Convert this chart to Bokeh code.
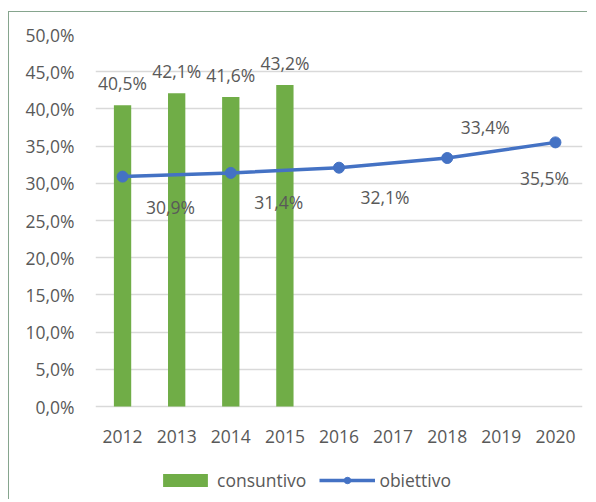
from bokeh.plotting import figure
from bokeh.models import (ColumnDataSource, FactorRange, Range1d, Legend, LegendItem,
                          FixedTicker, CustomJSTickFormatter, Spacer)
from bokeh.layouts import column, row
from bokeh.core.properties import value
from bokeh.embed import file_html
from bokeh.resources import INLINE

years = ["2012", "2013", "2014", "2015", "2016", "2017", "2018", "2019", "2020"]
bar_years = ["2012", "2013", "2014", "2015"]
consuntivo = [40.5, 42.1, 41.6, 43.2]
obj_years = ["2012", "2014", "2016", "2018", "2020"]
obiettivo = [30.9, 31.4, 32.1, 33.4, 35.5]
y_ticks = [0, 5, 10, 15, 20, 25, 30, 35, 40, 45, 50]

FONT = "Open Sans"
TXT = "#595959"
GREEN = "#70AD47"
BLUE = "#4472C4"
FS = "17.5px"

def fmt(v):
    return ("%.1f" % v).replace(".", ",") + "%"

# frame extends below 0 to leave room for the year labels and the legend
p = figure(width=579, height=488, x_range=FactorRange(factors=years),
           y_range=Range1d(-12.63, 50), output_backend="svg", toolbar_location=None,
           min_border_left=86, min_border_top=22, min_border_bottom=0, min_border_right=6)
p.styles = {"border-top": "1px solid #86a58e", "border-left": "1px solid #86a58e"}
p.outline_line_color = None
p.background_fill_color = "white"
p.border_fill_color = "white"

# bars
bar_src = ColumnDataSource(dict(x=bar_years, top=consuntivo,
                                lbl=[fmt(v) for v in consuntivo]))
bars = p.vbar(x="x", top="top", width=0.32, source=bar_src, fill_color=GREEN, line_color=None)
p.text(x="x", y="top", text="lbl", source=bar_src, text_align="center",
       text_baseline="bottom", y_offset=-10, text_font=value(FONT),
       text_font_size=FS, text_color=TXT)

# line
line_src = ColumnDataSource(dict(x=obj_years, y=obiettivo, lbl=[fmt(v) for v in obiettivo],
                                 dx=[48, 48, 46, 38, -11], dy=[30, 29, 29, -31, 36]))
ln = p.line(x="x", y="y", source=line_src, line_color=BLUE, line_width=3.5)
mk = p.scatter(x="x", y="y", source=line_src, size=11, fill_color=BLUE, line_color=BLUE)
p.text(x="x", y="y", text="lbl", source=line_src, x_offset="dx", y_offset="dy",
       text_align="center", text_baseline="middle", text_font=value(FONT),
       text_font_size=FS, text_color=TXT)

# category labels under the 0% line
p.xaxis.visible = False
p.text(x=years, y=[0] * len(years), text=years, y_offset=30, text_align="center",
       text_baseline="middle", text_font=value(FONT), text_font_size=FS, text_color=TXT)

# y axis and grid
p.xgrid.grid_line_color = None
p.ygrid.grid_line_color = "#D9D9D9"
p.ygrid.grid_line_width = 1.5
p.yaxis.ticker = FixedTicker(ticks=y_ticks)
p.ygrid.ticker = FixedTicker(ticks=y_ticks)
p.yaxis.formatter = CustomJSTickFormatter(code="return tick.toFixed(1).replace('.', ',') + '%';")
ax = p.yaxis[0]
ax.axis_line_color = None
ax.major_tick_line_color = None
ax.minor_tick_line_color = None
ax.major_tick_out = 0
ax.major_tick_in = 0
ax.major_label_text_font = FONT
ax.major_label_text_font_size = FS
ax.major_label_text_color = TXT
ax.major_label_standoff = 21

legend = Legend(items=[LegendItem(label="consuntivo", renderers=[bars]),
                       LegendItem(label="obiettivo", renderers=[ln, mk])],
                orientation="horizontal", location=(62, 8), glyph_width=56,
                glyph_height=16, label_standoff=4, spacing=13, padding=0, margin=0,
                border_line_color=None, background_fill_alpha=0,
                label_text_font=FONT, label_text_font_size=FS,
                label_text_color=TXT)
p.add_layout(legend, "center")

layout = column(Spacer(height=11), row(Spacer(width=8), p))
open("out.html", "w").write(file_html(layout, INLINE))
